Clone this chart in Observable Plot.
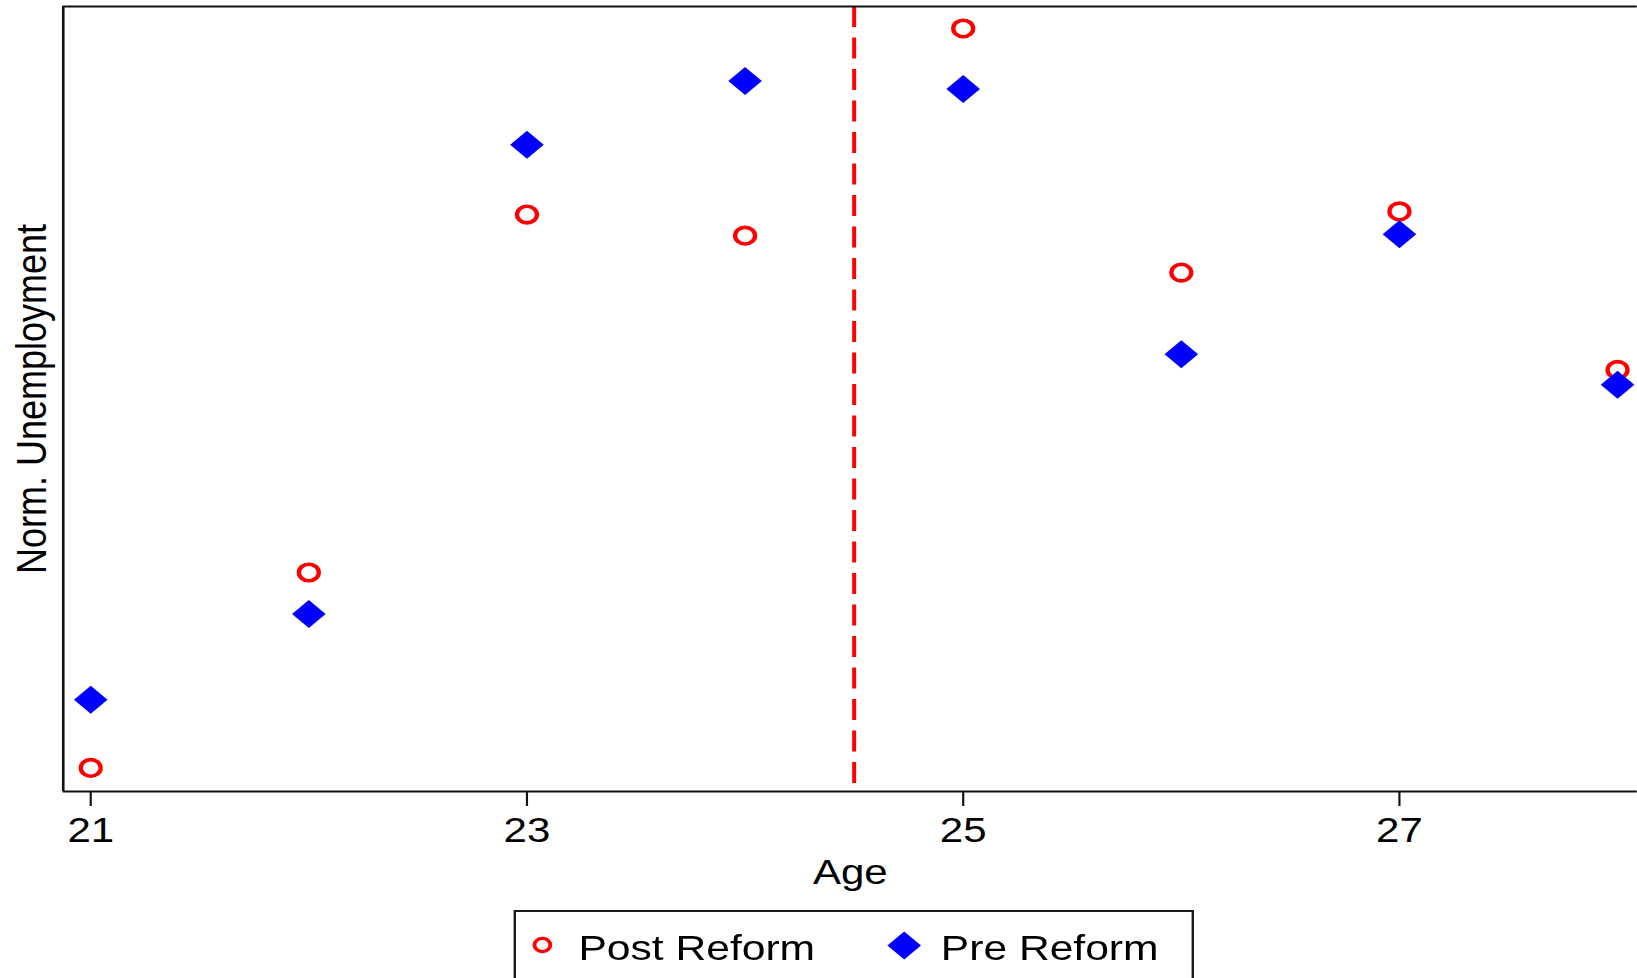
<!DOCTYPE html>
<html>
<head>
<meta charset="utf-8">
<script src="https://cdn.jsdelivr.net/npm/d3@7"></script>
<script src="https://cdn.jsdelivr.net/npm/@observablehq/plot@0.6"></script>
<style>
html, body { margin: 0; padding: 0; background: #fff; overflow: hidden; width: 1637px; height: 978px; }
#wrap { position: absolute; left: 0; top: 0; width: 1364px; height: 978px; transform: scaleX(1.2); transform-origin: 0 0; font-family: "Liberation Sans", Arial, sans-serif; }
#legend { position: absolute; left: 428px; top: 910px; width: 563px; height: 120px; border: 2px solid #1a1a1a; background: #fff; }
#legend svg { display: block; }
</style>
</head>
<body>
<div id="wrap"><div id="chart"></div><div id="legend"></div></div>
<script>
// ---- data ----
const ages = [21, 22, 23, 24, 25, 26, 27, 28];
const postReform = [0.030, 0.279, 0.735, 0.708, 0.972, 0.661, 0.739, 0.537];
const preReform  = [0.117, 0.226, 0.824, 0.905, 0.895, 0.557, 0.710, 0.518];
const xTicks = [21, 23, 25, 27];
const reformAge = [24.5];
const seriesNames = ["Post Reform", "Pre Reform"];
const seriesColors = ["#ff0000", "#0000ff"];

const xDomain = [20.874, 28.091];
const post = ages.map((a, i) => ({age: a, value: postReform[i]}));
const pre = ages.map((a, i) => ({age: a, value: preReform[i]}));

const diamond = {
  draw(ctx, size) {
    const r = Math.sqrt(size / Math.PI);
    ctx.moveTo(0, -r); ctx.lineTo(r, 0); ctx.lineTo(0, r); ctx.lineTo(-r, 0); ctx.closePath();
  }
};

const chart = Plot.plot({
  width: 1364, height: 900,
  marginLeft: 52.2, marginRight: 0, marginTop: 6, marginBottom: 109,
  x: {domain: xDomain},
  y: {domain: [0, 1]},
  style: {fontFamily: "Liberation Sans, Arial, sans-serif", background: "white", color: "black", overflow: "visible"},
  marks: [
    Plot.ruleX(reformAge, {stroke: seriesColors[0], strokeWidth: 3.3, strokeDasharray: "21,10.5"}),
    Plot.dot(post, {x: "age", y: "value", symbol: "circle", r: 8.3, stroke: seriesColors[0], strokeWidth: 3.6, fill: "none"}),
    Plot.dot(pre, {x: "age", y: "value", symbol: diamond, r: 14, fill: seriesColors[1], stroke: "none"}),
    Plot.ruleY([0, 1], {stroke: "#111", strokeWidth: 2}),
    Plot.ruleX([xDomain[0]], {stroke: "#111", strokeWidth: 2.2}),
    Plot.axisX({ticks: xTicks, tickSize: 15, tickPadding: 11, fontSize: 35, strokeWidth: 1.8, stroke: "#111", fill: "black",
      label: "Age", labelAnchor: "center", labelArrow: "none", labelOffset: 92}),
    Plot.axisY({ticks: [], tickSize: 0, label: "Norm. Unemployment", labelAnchor: "center", labelArrow: "none",
      labelOffset: 40, fontSize: 36, fill: "black"})
  ]
});
document.getElementById("chart").appendChild(chart);

// ---- legend ----
const ns = "http://www.w3.org/2000/svg";
const lg = document.createElementNS(ns, "svg");
lg.setAttribute("width", 563); lg.setAttribute("height", 110);
const c = document.createElementNS(ns, "circle");
c.setAttribute("cx", 22); c.setAttribute("cy", 33); c.setAttribute("r", 6.6);
c.setAttribute("fill", "none"); c.setAttribute("stroke", seriesColors[0]); c.setAttribute("stroke-width", 3.2);
lg.appendChild(c);
const d = document.createElementNS(ns, "path");
d.setAttribute("d", "M323.5,19.5L337.5,33.5L323.5,47.5L309.5,33.5Z");
d.setAttribute("fill", seriesColors[1]);
lg.appendChild(d);
[[52, seriesNames[0]], [354, seriesNames[1]]].forEach(([x, t]) => {
  const tx = document.createElementNS(ns, "text");
  tx.setAttribute("x", x); tx.setAttribute("y", 48);
  tx.setAttribute("font-size", 35.5);
  tx.setAttribute("font-family", "Liberation Sans, Arial, sans-serif");
  tx.setAttribute("fill", "black");
  tx.textContent = t;
  lg.appendChild(tx);
});
document.getElementById("legend").appendChild(lg);
</script>
</body>
</html>
